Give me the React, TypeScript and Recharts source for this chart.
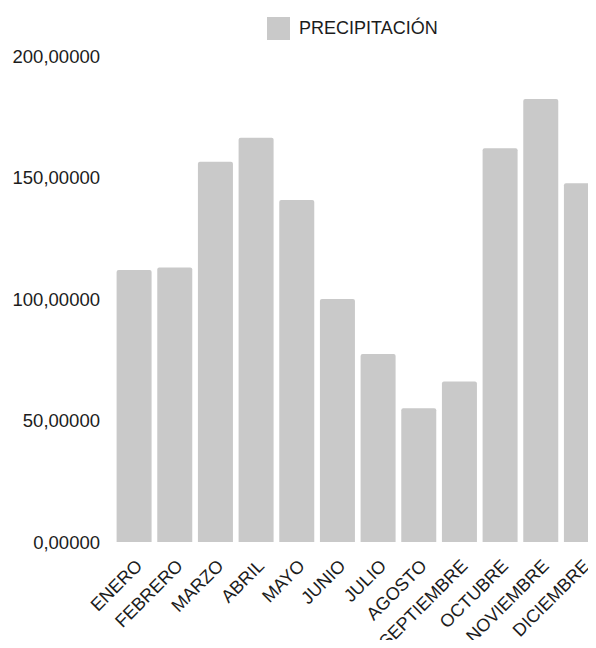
import { BarChart, Bar, XAxis, YAxis, Legend } from 'recharts';

const months = [
  'ENERO', 'FEBRERO', 'MARZO', 'ABRIL', 'MAYO', 'JUNIO',
  'JULIO', 'AGOSTO', 'SEPTIEMBRE', 'OCTUBRE', 'NOVIEMBRE', 'DICIEMBRE',
];
const precipitation = [111.9, 113.0, 156.5, 166.4, 140.7, 100.0, 77.4, 55.0, 66.0, 162.0, 182.3, 147.6];
const yTicks = [0, 50, 100, 150, 200];

const data = months.map((m, i) => ({ month: m, value: precipitation[i] }));

const FONT = '"Liberation Sans", Arial, sans-serif';
const BAR_COLOR = '#c9c9c9';
const TEXT_COLOR = '#1c1c1c';

// rotated month labels, anchored a bit right of the band centre
function MonthTick(props: any) {
  const { x, y, payload } = props;
  return (
    <g transform={`translate(${x + 9},${y + 17})`}>
      <text textAnchor="end" transform="rotate(-45)" fontSize={18} fill={TEXT_COLOR} fontFamily={FONT}>
        {payload.value}
      </text>
    </g>
  );
}

function LegendBox() {
  return (
    <div style={{ position: 'relative', height: 56, fontFamily: FONT }}>
      <div style={{ position: 'absolute', left: 267, top: 17, width: 23, height: 23, background: BAR_COLOR }} />
      <div style={{ position: 'absolute', left: 299, top: 18, fontSize: 18, color: TEXT_COLOR, lineHeight: '21px' }}>
        PRECIPITACIÓN
      </div>
    </div>
  );
}

export default function App() {
  return (
    <div style={{ margin: -8, width: 596, height: 648, overflow: 'hidden', background: '#fff' }}>
      <BarChart
        width={602}
        height={648}
        data={data}
        margin={{ top: 0, right: 0, left: 0, bottom: 0 }}
        barCategoryGap={2.6}
      >
        <Legend
          verticalAlign="top"
          align="left"
          wrapperStyle={{ left: 0, width: 596 }}
          content={() => <LegendBox />}
        />
        <YAxis
          width={114}
          domain={[0, 200]}
          ticks={yTicks}
          axisLine={false}
          tickLine={false}
          tickMargin={8}
          tick={{ fontSize: 18.5, fill: TEXT_COLOR, fontFamily: FONT }}
          tickFormatter={(v: number) => v.toFixed(5).replace('.', ',')}
        />
        <XAxis
          dataKey="month"
          height={106}
          interval={0}
          axisLine={false}
          tickLine={false}
          tick={<MonthTick />}
        />
        <Bar dataKey="value" fill={BAR_COLOR} radius={[2, 2, 0, 0]} isAnimationActive={false} />
      </BarChart>
    </div>
  );
}
